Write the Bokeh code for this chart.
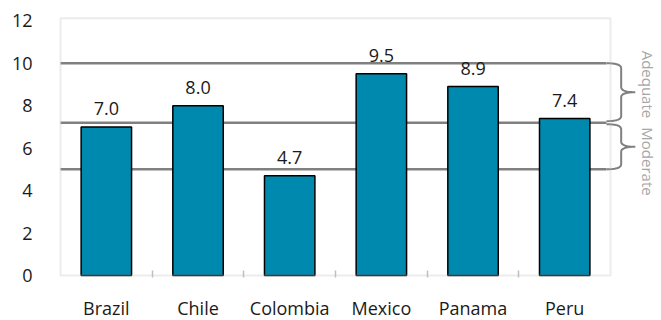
import numpy as np
from bokeh.plotting import figure
from bokeh.models import Range1d, FixedTicker, BoxAnnotation, Label, ColumnDataSource
from bokeh.core.properties import value
from bokeh.embed import file_html
from bokeh.resources import INLINE

# ---- data ----
countries = ["Brazil", "Chile", "Colombia", "Mexico", "Panama", "Peru"]
values = [7.0, 8.0, 4.7, 9.5, 8.9, 7.4]
y_ticks = [0, 2, 4, 6, 8, 10, 12]
thresholds = [5.0, 7.2, 10.0]          # Moderate: 5-7.2, Adequate: 7.2-10
band_names = ["Moderate", "Adequate"]

# ---- layout constants ----
FONT = "Open Sans"
n = len(countries)
x_centers = [i + 0.5 for i in range(n)]
boundaries = list(range(n + 1))
box_top = 12.12
band_label_x = n + 0.414
band_label_y = {"Adequate": 9.0, "Moderate": 5.37}

src = ColumnDataSource(dict(x=x_centers, top=values,
                            label=[f"{v:.1f}" for v in values]))

p = figure(frame_width=603, frame_height=261,
           x_range=Range1d(-0.022, -0.022 + 603 / 91.67),
           y_range=Range1d(-0.094, 12.2),
           output_backend="svg", toolbar_location=None,
           min_border_left=58, min_border_top=16, min_border_right=0,
           min_border_bottom=43)
p.outline_line_color = None
p.xgrid.visible = False
p.ygrid.visible = False
p.background_fill_color = "white"

# threshold lines (behind bars)
line_end = n - 0.044
p.segment(x0=[0] * len(thresholds), x1=[line_end] * len(thresholds),
          y0=thresholds, y1=thresholds, line_color="#808080", line_width=2.5)

# bars
p.vbar(x="x", top="top", width=0.55, bottom=0, source=src,
       fill_color="#0089AF", line_color="black", line_width=1.5)

# value labels
p.text(x="x", y="top", text="label", source=src, text_align="center",
       text_baseline="alphabetic", y_offset=-18,
       text_font=value(FONT), text_font_size="18px", text_color="#1a1a1a")

# plot-area box
p.add_layout(BoxAnnotation(left=0, right=n, bottom=0, top=box_top,
                           fill_alpha=0, line_color="#bfbfbf", line_width=2))

# braces
def qbez(p0, c, p1, k=10):
    t = np.linspace(0, 1, k)
    return (1 - t) ** 2 * p0 + 2 * (1 - t) * t * c + t ** 2 * p1

def brace(ya, yb, x0, x1, x2, r):
    ym = (ya + yb) / 2
    xs, ys = [], []
    for (px0, py0), (cx, cy), (px1, py1) in [
        ((x0, ya), (x1, ya), (x1, ya - r)),
        ((x1, ya - r), (x1, ya - r), (x1, ym + r)),
        ((x1, ym + r), (x1, ym), (x2, ym)),
        ((x2, ym), (x1, ym), (x1, ym - r)),
        ((x1, ym - r), (x1, ym - r), (x1, yb + r)),
        ((x1, yb + r), (x1, yb), (x0, yb)),
    ]:
        xs += list(qbez(px0, cx, px1))
        ys += list(qbez(py0, cy, py1))
    return xs, ys

pad = 0.07
bx0, bx1, bx2 = n - 0.044, n + 0.116, n + 0.27
bxs, bys = [], []
for i in range(len(thresholds) - 1):
    lo, hi = thresholds[i], thresholds[i + 1]
    ya = hi - (pad if i + 1 < len(thresholds) - 1 else 0)
    yb = lo + (pad if i > 0 else 0)
    xs, ys = brace(ya, yb, bx0, bx1, bx2, 0.24)
    bxs.append(xs)
    bys.append(ys)
p.multi_line(xs=bxs, ys=bys, line_color="#808080", line_width=2)

for name in band_names:
    p.add_layout(Label(x=band_label_x, y=band_label_y[name], text=name,
                       angle=-np.pi / 2, text_align="center",
                       text_baseline="middle", text_font=FONT,
                       text_font_size="15px", text_color="#a6a6a6"))

# axes
p.yaxis.ticker = FixedTicker(ticks=y_ticks)
p.yaxis.axis_line_color = None
p.yaxis.major_tick_line_color = None
p.yaxis.minor_tick_line_color = None
p.yaxis.major_label_standoff = 20
p.yaxis.major_label_text_font = FONT
p.yaxis.major_label_text_font_size = "18px"
p.yaxis.major_label_text_color = "#1a1a1a"

p.xaxis.ticker = FixedTicker(ticks=x_centers, minor_ticks=boundaries[1:-1])
p.xaxis.major_label_overrides = {x: c for x, c in zip(x_centers, countries)}
p.xaxis.axis_line_color = None
p.xaxis.major_tick_line_color = None
p.xaxis.minor_tick_line_color = "#bfbfbf"
p.xaxis.minor_tick_line_width = 1.5
p.xaxis.minor_tick_in = 7
p.xaxis.minor_tick_out = 0
p.xaxis.major_label_standoff = 12
p.xaxis.major_label_text_font = FONT
p.xaxis.major_label_text_font_size = "18px"
p.xaxis.major_label_text_color = "#1a1a1a"

open("out.html", "w").write(file_html(p, INLINE))
